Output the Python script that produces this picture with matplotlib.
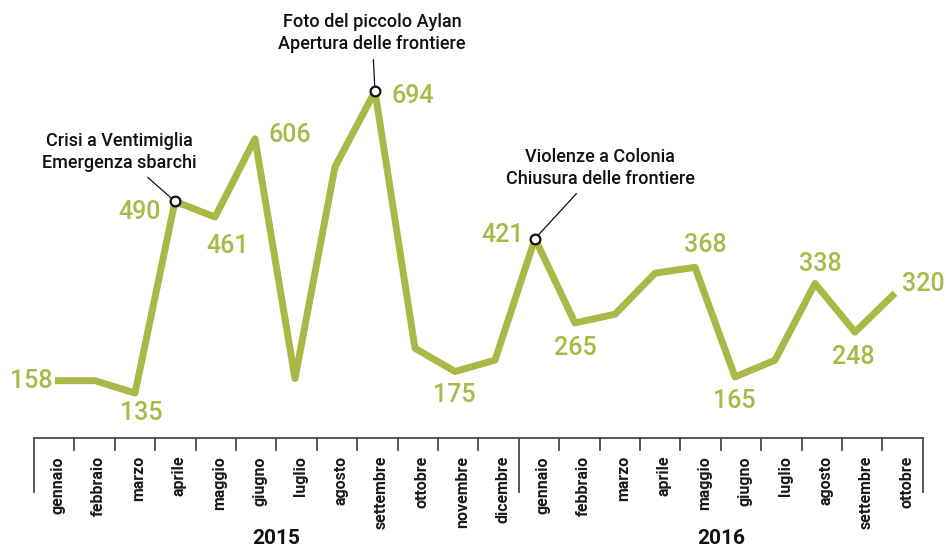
import matplotlib
matplotlib.use('Agg')
from matplotlib import pyplot as plt

# dati: sbarchi / arrivi mensili
mesi = ['gennaio', 'febbraio', 'marzo', 'aprile', 'maggio', 'giugno', 'luglio',
        'agosto', 'settembre', 'ottobre', 'novembre', 'dicembre']
mesi_2016 = mesi[:10]
etichette = mesi + mesi_2016
anni = ['2015', '2016']
valori = [158, 158, 135, 490, 461, 606, 162, 554, 694, 218, 175, 196,
          421, 265, 281, 357, 368, 165, 196, 338, 248, 320]

# indici dei valori scritti sul grafico
idx_etichette = [0, 2, 3, 4, 5, 8, 10, 12, 13, 16, 17, 19, 20, 21]
# eventi
eventi = {3: 'Crisi a Ventimiglia\nEmergenza sbarchi',
          8: 'Foto del piccolo Aylan\nApertura delle frontiere',
          12: 'Violenze a Colonia\nChiusura delle frontiere'}

verde = '#a9b847'
W, H = 946, 548

# spostamenti delle etichette (pixel)
offset = {0: (-24, 0), 2: (6, -20), 3: (-35, -11), 4: (13, -29), 5: (35, 4),
          8: (38, -5), 10: (-1, -23), 12: (-32, 4), 13: (0, -25), 16: (10, 22),
          17: (-1, -24), 19: (5, 19), 20: (-2, -25), 21: (28, 9)}
pos_eventi = {3: (119, 152), 8: (372, 33), 12: (600, 168)}

fig = plt.figure(figsize=(W / 100, H / 100), dpi=100)

# asse dei mesi (coordinate in pixel dall'alto)
axb = fig.add_axes([0, 0, 1, 1])
axb.set_xlim((0 - 34) / 40.4 - 0.5, (W - 34) / 40.4 - 0.5)
axb.set_ylim(H, 0)
axb.axis('off')
axb.plot([-0.5, len(etichette) - 0.5], [438, 438], color='#4a4a4a', lw=1.3)
for k in range(len(etichette) + 1):
    fondo = 492 if k in (0, 12, len(etichette)) else 450
    axb.plot([k - 0.5, k - 0.5], [438, fondo], color='#4a4a4a', lw=1.3)
for i, m in enumerate(etichette):
    axb.text(i + 0.1, 456, m, rotation=90, ha='center', va='top',
             fontsize=11.5, fontweight='bold', family='Roboto', color='#1a1a1a')
axb.text(5.5, 538, anni[0], ha='center', va='center', fontsize=15,
         fontweight='bold', family='Roboto', color='#111111')
axb.text(16.5, 538, anni[1], ha='center', va='center', fontsize=15,
         fontweight='bold', family='Roboto', color='#111111')

# linea principale
ax = fig.add_axes([0, 0, 1, 1])
ax.patch.set_alpha(0)
ax.set_xlim(-55 / 40, (W - 55) / 40)
ax.set_ylim((466 - H) / 0.54, 466 / 0.54)
ax.axis('off')
x = list(range(len(valori)))
ax.plot(x, valori, color=verde, lw=5, solid_joinstyle='round',
        solid_capstyle='butt', zorder=2)

for i in idx_etichette:
    ax.annotate(str(valori[i]), xy=(i, valori[i]), xytext=offset[i],
                textcoords='offset pixels', ha='center', va='center',
                fontsize=18, family='Roboto', fontweight='medium', color=verde)

for i, testo in eventi.items():
    px, py = pos_eventi[i]
    ax.annotate(testo, xy=(i, valori[i]), xytext=(px, H - py),
                textcoords='figure pixels', ha='center', va='center',
                fontsize=13, family='Roboto', fontweight='medium',
                color='#111111', linespacing=1.25,
                arrowprops=dict(arrowstyle='-', color='#111111', lw=0.9,
                                shrinkA=3, shrinkB=0), zorder=3)
    ax.plot(i, valori[i], 'o', ms=7, mfc='white', mec='#111111', mew=1.6,
            zorder=5)

fig.savefig('out.png', dpi=100)
